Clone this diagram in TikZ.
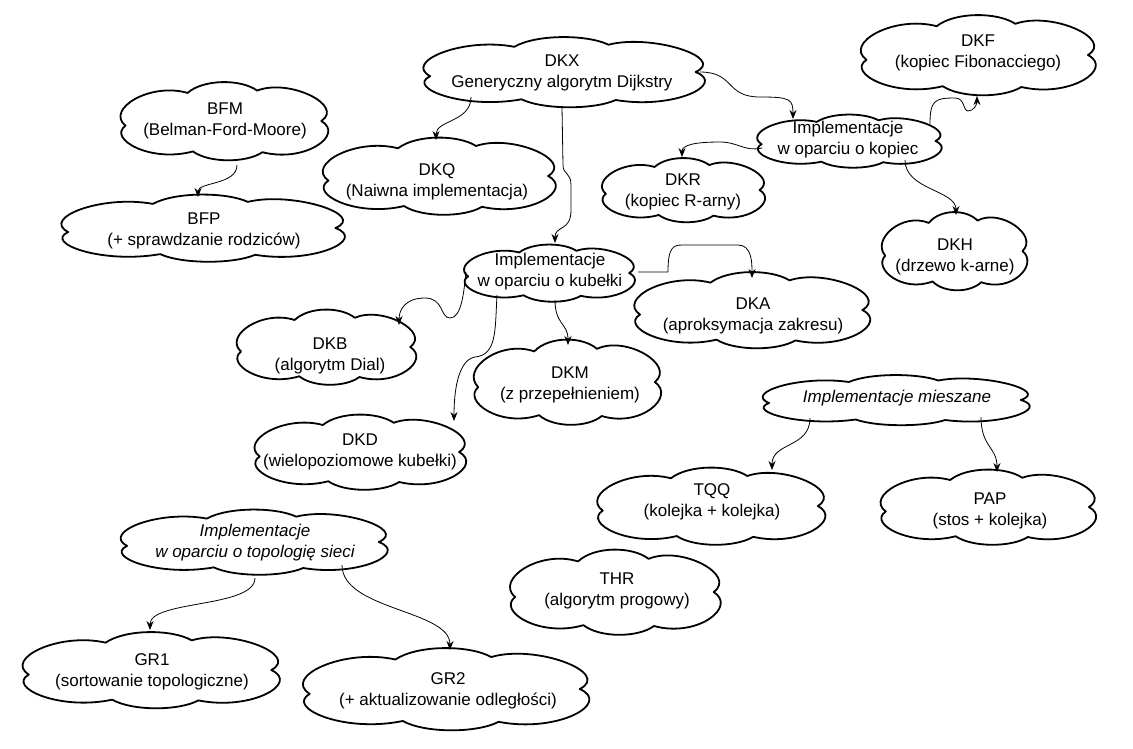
\documentclass[tikz,border=0pt]{standalone}
\usepackage{fontspec}
\setmainfont{Liberation Sans}
\usetikzlibrary{arrows.meta,calc}
% #1 extra node style, #2 name, #3 text position, #4 cloud centre, #5 width, #6 height, #7 text
\newcommand\cnode[7][]{%
  \begin{scope}[shift={#4}, xscale=#5/2, yscale=#6/2]
    \draw[cloudline] (-0.93,0.12)
      .. controls (-1.12,-0.3) and (-0.7,-1.0) .. (-0.35,-0.72)
      .. controls (-0.2,-1.08) and (0.15,-1.08) .. (0.3,-0.78)
      .. controls (0.6,-1.1) and (1.12,-0.4) .. (0.9,0.0)
      .. controls (1.12,0.35) and (0.75,1.08) .. (0.35,0.8)
      .. controls (0.2,1.08) and (-0.15,1.08) .. (-0.3,0.78)
      .. controls (-0.7,1.08) and (-1.1,0.45) .. (-0.93,0.12) -- cycle;
  \end{scope}
  \node[txt,#1] (#2) at #3 {#7};}
\begin{document}
\begin{tikzpicture}[x=1pt,y=-1pt,
  cloudline/.style={line width=1.8pt, line join=round},
  txt/.style={align=center, inner sep=0pt, font=\fontsize{17}{21}\selectfont},
  itxt/.style={font=\fontsize{17}{21}\selectfont\itshape},
  link/.style={line width=0.8pt, -{Stealth[length=9pt,width=7pt]}}]
\useasboundingbox (0,0) rectangle (1133,748);
% nodes with cloud outlines
\cnode{dkx}{(562,73)}{(565,72)}{290}{70}{DKX\\Generyczny algorytm Dijkstry}
\cnode{dkf}{(978,53)}{(979,55)}{242}{80}{DKF\\(kopiec Fibonacciego)}
\cnode{bfm}{(225,121)}{(225,121)}{214}{78}{BFM\\(Belman-Ford-Moore)}
\cnode{kop}{(848,140)}{(850,141)}{190}{53}{Implementacje\\w oparciu o kopiec}
\cnode{dkq}{(437,182)}{(440,176)}{240}{77}{DKQ\\(Naiwna implementacja)}
\cnode{dkr}{(683,192)}{(684,190)}{168}{64}{DKR\\(kopiec R-arny)}
\cnode{bfp}{(204,231)}{(204,228)}{292}{67}{BFP\\(+ sprawdzanie rodziców)}
\cnode{dkh}{(955,257)}{(955,251)}{150}{78}{DKH\\(drzewo k-arne)}
\cnode{kub}{(550,272)}{(550,273)}{176}{57}{Implementacje\\w oparciu o kubełki}
\cnode{dka}{(753,316)}{(753,310)}{243}{76}{DKA\\(aproksymacja zakresu)}
\cnode{dkb}{(330,356)}{(327,347)}{185}{75}{DKB\\(algorytm Dial)}
\cnode{dkm}{(570,385)}{(568,382)}{193}{85}{DKM\\(z przepełnieniem)}
\cnode[itxt]{mie}{(897,398)}{(897,400)}{275}{50}{Implementacje mieszane}
\cnode{dkd}{(360,452)}{(361,452)}{218}{75}{DKD\\(wielopoziomowe kubełki)}
\cnode{tqq}{(712,502)}{(712,506)}{235}{77}{TQQ\\(kolejka + kolejka)}
\cnode{pap}{(990,511)}{(989,507)}{222}{75}{PAP\\(stos + kolejka)}
\cnode[itxt]{top}{(255,543)}{(255,542)}{275}{65}{Implementacje\\w oparciu o topologię sieci}
\cnode{thr}{(617,591)}{(616,592)}{217}{85}{THR\\(algorytm progowy)}
\cnode{gr1}{(152,672)}{(152,670)}{265}{76}{GR1\\(sortowanie topologiczne)}
\cnode{gr2}{(448,691)}{(447,689)}{295}{82}{GR2\\(+ aktualizowanie odległości)}
% connectors
\draw[link] ($(dkx)+(-91,24)$) .. controls +(0,25) and +(0,-20) .. ($(dkq)+(-1,-42)$);
\draw[link] ($(dkx)+(0,34)$) -- ++(1,58) .. controls +(0,10) and +(0,-13) .. ++(8,20) -- ++(0,25) .. controls +(0,22) and +(0,-18) .. ($(kub)+(5,-29)$);
\draw[link] ($(dkx)+(138,-1)$) .. controls +(35,0) and +(-35,0) .. ++(60,25) .. controls +(30,0) and +(0,-20) .. ($(kop)+(-55,-21)$);
\draw[link] ($(kop)+(82,-16)$) .. controls +(0,-24) and +(-20,0) .. ++(25,-26) .. controls +(10,0) and +(-5,0) .. ++(13,13) .. controls +(6,0) and +(0,8) .. ($(dkf)+(-1,43)$);
\draw[link] ($(kop)+(-86,8)$) .. controls +(-17,4) and +(18,0) .. ++(-42,-6) .. controls +(-25,0) and +(0,-12) .. ($(dkr)+(-1,-35)$);
\draw[link] ($(kop)+(57,20)$) .. controls +(0,30) and +(0,-25) .. ($(dkh)+(1,-42)$);
\draw[link] ($(bfm)+(12,44)$) .. controls +(0,20) and +(0,-15) .. ($(bfp)+(-6,-34)$);
\draw[link] ($(kub)+(88,0)$) -- ++(30,0) .. controls +(0,-25) and +(-10,0) .. ++(15,-27) -- ++(55,0) .. controls +(14,0) and +(0,-15) .. ($(dka)+(-1,-38)$);
\draw[link] ($(kub)+(-84,0)$) .. controls +(-2,18) and +(12,0) .. ++(-16,46) .. controls +(-10,0) and +(19,0) .. ++(-25,-20) .. controls +(-20,0) and +(0,-15) .. ($(dkb)+(69,-31)$);
\draw[link] ($(kub)+(5,28)$) .. controls +(0,25) and +(0,-22) .. ($(dkm)+(-2,-40)$);
\draw[link] ($(kub)+(-53,23)$) .. controls +(-2,35) and +(22,-2) .. ++(-22,62) .. controls +(-17,3) and +(0,-30) .. ($(dkd)+(94,-31)$);
\draw[link] ($(mie)+(-87,20)$) .. controls +(0,30) and +(0,-28) .. ($(tqq)+(60,-32)$);
\draw[link] ($(mie)+(84,19)$) .. controls +(0,30) and +(0,-25) .. ($(pap)+(7,-39)$);
\draw[link] ($(top)+(0,35)$) .. controls +(0,30) and +(0,-30) .. ($(gr1)+(-2,-42)$);
\draw[link] ($(top)+(87,22)$) .. controls +(0,45) and +(0,-40) .. ($(gr2)+(2,-41)$);
\end{tikzpicture}
\end{document}
